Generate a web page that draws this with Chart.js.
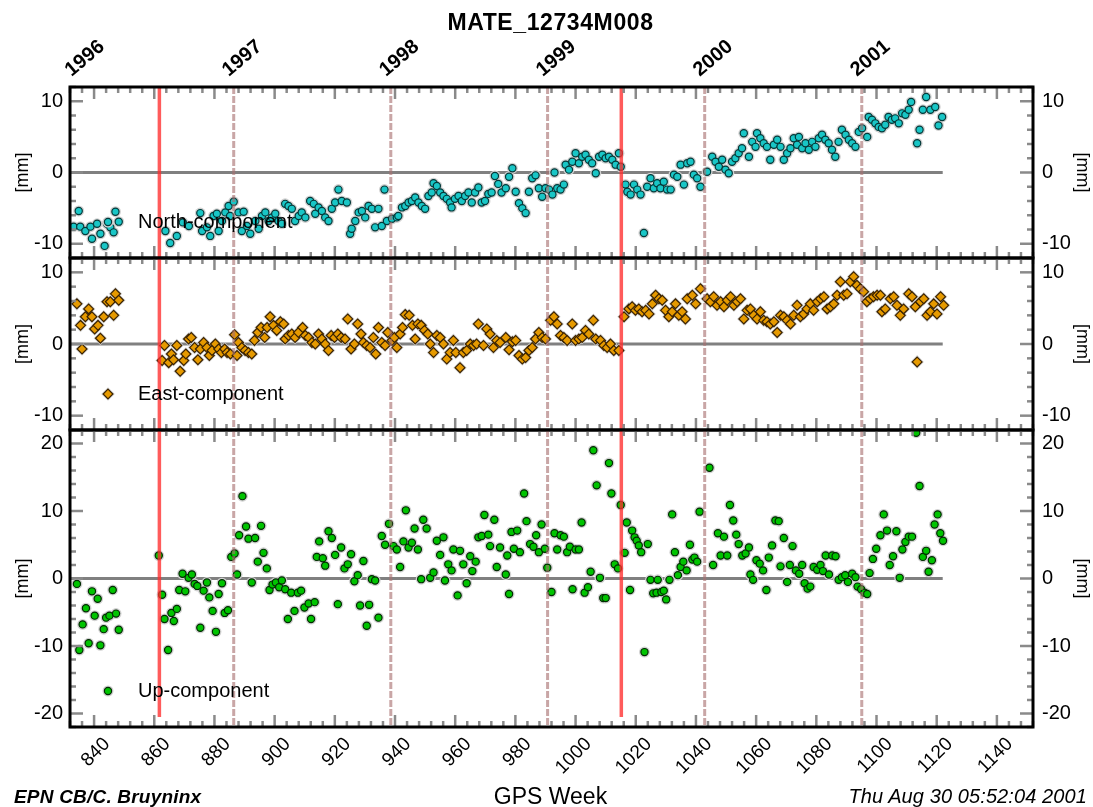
<!DOCTYPE html>
<html lang="en">
<head>
    <meta charset="UTF-8">
    <title>MATE_12734M008</title>
    <script src="https://cdn.jsdelivr.net/npm/chart.js"></script>
    <style>
        body { margin: 0; background: #fff; }
        #wrap { position: relative; width: 1093px; height: 807px; overflow: hidden; font-family: "Liberation Sans", Arial, sans-serif; }
        #wrap canvas { position: absolute; left: 0; top: 0; }
        .txt { position: absolute; white-space: nowrap; color: #000; }
        #title { left: 0; width: 1093px; top: 9px; text-align: center; font-weight: bold; font-size: 23px; letter-spacing: 0.6px; padding-left: 4px; }
        #credit { left: 14px; top: 786px; font-weight: bold; font-style: italic; font-size: 19px; letter-spacing: 0.2px; }
        #xlabel { left: 0; width: 1093px; top: 783px; text-align: center; font-size: 23px; padding-left: 4px; }
        #stamp { right: 6px; top: 785px; font-style: italic; font-size: 20px; letter-spacing: 0.1px; }
    </style>
</head>
<body>
<div id="wrap">
    <canvas id="north" width="1093" height="807"></canvas>
    <canvas id="east" width="1093" height="807"></canvas>
    <canvas id="up" width="1093" height="807"></canvas>
    <div class="txt" id="title">MATE_12734M008</div>
    <div class="txt" id="credit">EPN CB/C. Bruyninx</div>
    <div class="txt" id="xlabel">GPS Week</div>
    <div class="txt" id="stamp">Thu Aug 30 05:52:04 2001</div>
</div>

<script>
// GPS week axis
const weekMin = 832;
const weekMax = 1152;
const weekTicks = [840, 860, 880, 900, 920, 940, 960, 980, 1000, 1020, 1040, 1060, 1080, 1100, 1120, 1140];
const yearWeeks = [834.1, 886.4, 938.6, 990.7, 1042.9, 1095.1];
const yearLabels = ['1996', '1997', '1998', '1999', '2000', '2001'];
const yearLines = [886.4, 938.6, 990.7, 1042.9, 1095.1];
const breakWeeks = [861.7, 1015.2];   // red lines (equipment changes)
const zeroLineEnd = 1122;

// [GPS week, mm]
const northPoints = [
    [833.2,-7.6],[834.9,-5.4],[835.4,-7.6],[837.1,-8.2],[838.8,-7.6],[839.3,-9.3],[841.0,-7.2],[842.1,-8.6],
    [843.5,-10.3],[844.3,-7.2],[845.4,-7.7],[846.5,-8.4],[847.1,-5.5],[848.2,-6.9],
    [863.7,-8.2],[865.3,-9.9],[867.5,-8.9],[869.5,-7.0],[871.5,-7.5],[875.3,-5.7],[875.9,-8.2],[877.5,-7.7],
    [878.6,-8.9],[879.7,-6.1],[880.8,-5.8],[881.4,-8.2],[882.5,-6.8],[883.6,-5.6],[884.7,-4.7],[885.2,-6.1],
    [886.4,-4.1],[888.0,-5.6],[889.1,-8.2],[889.7,-5.5],[890.8,-7.5],[891.9,-8.6],[893.6,-6.8],[894.7,-7.9],
    [895.8,-6.1],[896.9,-5.6],[898.0,-6.8],[899.1,-6.3],[900.2,-5.8],[901.3,-6.8],[902.4,-7.2],[903.5,-4.4],
    [904.6,-4.7],[905.7,-5.1],[906.8,-6.8],[908.0,-6.1],[909.0,-5.6],[910.2,-6.3],[911.8,-4.0],[913.0,-4.4],
    [913.5,-5.8],[914.6,-4.9],[915.7,-5.4],[916.8,-6.3],[917.9,-6.8],[919.0,-5.1],[920.1,-4.2],[921.2,-2.4],
    [922.3,-4.0],[924.0,-4.2],[925.1,-8.6],[925.6,-7.9],[926.8,-6.8],[927.9,-5.6],[929.0,-5.4],[930.1,-6.3],
    [931.2,-4.7],[932.3,-5.1],[933.4,-7.7],[934.5,-5.1],[935.6,-7.5],[936.5,-2.4],[937.3,-6.8],[939.0,-6.5],
    [940.6,-6.3],[941.1,-6.1],[942.3,-4.9],[943.4,-4.7],[944.5,-4.2],[945.6,-4.0],[946.7,-3.5],[947.8,-4.2],
    [948.9,-4.7],[950.0,-5.1],[951.1,-3.3],[952.2,-2.8],[952.8,-1.5],[953.9,-1.9],[955.0,-2.8],[956.1,-3.3],
    [957.2,-3.7],[958.3,-4.2],[958.8,-4.9],[959.9,-3.7],[961.1,-3.3],[962.2,-4.0],[963.3,-3.3],[964.4,-2.8],
    [965.5,-4.2],[966.6,-2.8],[967.7,-2.1],[968.8,-4.2],[969.9,-4.0],[971.0,-3.0],[972.1,-2.8],[973.2,-0.5],
    [974.3,-1.6],[975.4,-2.8],
    [976.8,-2.2],[977.9,-0.6],[979.0,0.6],[980.1,-2.7],[981.2,-4.3],[982.3,-5.0],[983.4,-5.7],[984.5,-2.7],
    [985.6,-0.8],[986.7,-0.4],[987.8,-2.2],[988.9,-3.4],[990.0,-2.2],[991.2,-2.4],[992.3,-3.1],[993.0,0.0],
    [993.9,-2.2],[995.0,-2.4],[996.1,-1.7],[996.7,1.1],[997.8,0.4],[998.9,1.5],[1000.0,2.7],[1001.1,1.3],
    [1002.2,2.2],[1003.3,2.5],[1004.4,1.8],[1005.5,1.3],[1006.7,-0.1],[1007.8,2.2],[1008.9,2.5],[1010.0,2.0],
    [1011.1,2.2],[1012.2,1.8],[1013.3,1.1],[1014.4,2.7],[1015.0,0.8],
    [1016.6,-1.7],[1017.2,-2.7],[1018.3,-3.1],[1019.4,-1.7],[1020.5,-2.4],[1021.6,-3.1],[1022.7,-8.5],[1023.8,-2.0],
    [1024.9,-0.8],[1026.0,-2.2],[1027.1,-1.5],[1028.2,-2.2],[1029.3,-1.3],[1030.4,-2.4],[1031.6,-2.4],[1032.7,-0.3],
    [1033.8,-0.6],[1034.9,1.1],[1036.0,-1.7],[1037.1,1.3],[1038.2,1.5],[1039.3,-0.3],[1040.4,-0.8],[1041.5,-2.0],
    [1043.7,0.1],[1045.4,2.2],[1046.5,1.5],[1047.6,0.8],[1048.7,1.8],[1049.8,0.4],[1050.9,-0.1],[1052.0,1.5],
    [1053.1,2.0],[1054.2,2.7],[1055.3,3.4],[1055.9,5.5],[1057.6,2.2],[1058.7,4.3],[1059.8,3.6],[1060.3,5.5],
    [1061.4,4.8],[1062.5,4.1],[1063.6,3.6],[1064.7,1.8],[1065.9,3.9],[1067.0,4.6],[1068.1,3.6],[1069.2,1.8],
    [1070.3,2.7],[1071.4,3.4],[1072.5,4.8],[1073.6,3.9],[1074.2,5.0],[1075.3,3.4],[1076.4,4.1],[1077.5,3.2],
    [1078.6,4.3],[1079.7,3.6],[1080.8,4.8],[1081.9,5.3],[1083.0,4.6],[1084.1,4.1],[1085.2,3.2],[1086.3,2.2],
    [1087.4,4.3],[1088.5,6.0],[1089.7,5.3],[1090.8,4.6],[1091.9,4.1],[1093.0,3.6],[1094.1,5.7],[1095.2,6.2],
    [1096.9,5.0],[1097.4,7.8],[1098.5,7.4],[1099.6,6.9],[1100.7,6.4],[1101.8,6.2],[1102.9,6.7],[1104.0,7.8],
    [1105.1,7.4],[1106.2,7.6],[1107.4,6.9],[1108.5,8.3],[1109.6,8.1],[1110.7,8.8],[1111.5,9.9],[1113.5,4.1],
    [1114.3,6.0],[1115.4,8.8],[1116.5,10.6],[1117.9,8.8],[1119.5,9.2],[1120.6,6.6],[1121.8,7.8]
];

const eastPoints = [
    [834.3,5.6],[835.5,2.6],[836.0,-0.7],[837.1,3.8],[838.2,4.9],[839.3,3.8],[840.2,2.1],[841.3,2.6],
    [842.1,0.8],[843.2,3.8],[844.3,5.9],[845.4,5.9],[846.5,4.0],[847.1,7.0],[848.2,6.1],
    [862.6,-2.3],[863.4,-0.2],[864.8,-2.6],[865.7,-1.4],[866.4,-2.2],[867.5,-0.2],[868.6,-3.8],[869.8,-2.3],
    [870.5,-1.4],[871.4,0.7],[872.3,0.9],[873.4,-0.5],[874.5,-2.2],[875.3,-0.7],[876.4,0.2],[877.5,-0.5],
    [878.3,-1.6],[879.2,-0.9],[880.3,0.0],[881.4,-0.7],[882.3,-1.2],[883.4,-0.7],[884.2,-1.2],[885.3,-1.4],
    [886.7,1.3],[887.5,-1.6],[888.0,0.2],[889.1,-0.5],[890.2,-0.9],[891.3,-1.2],[892.4,-1.4],[893.3,0.5],
    [894.4,1.6],[895.5,2.3],[896.7,0.9],[897.5,2.3],[898.5,3.8],[899.6,2.6],[900.7,1.9],[901.9,3.1],
    [903.0,2.8],[903.5,0.7],[904.6,1.2],[905.7,1.4],[906.8,0.9],[907.9,1.6],[909.3,2.3],[910.2,1.2],
    [911.3,0.9],[912.4,0.2],[913.5,0.0],[914.6,1.4],[915.7,0.7],[916.8,0.0],[917.9,-0.9],[918.8,1.2],
    [919.9,0.9],[921.0,1.4],[922.1,0.9],[923.4,0.7],[924.3,3.5],[925.4,-0.7],[926.5,0.0],[927.6,2.8],
    [928.7,1.4],[929.5,0.2],[930.6,-0.2],[931.7,-0.5],[932.8,0.9],[933.6,-1.4],[934.5,2.3],[935.6,0.2],
    [936.7,-0.2],[937.6,1.6],[939.0,0.5],[939.8,0.9],[940.6,-0.5],[941.7,1.4],[942.5,2.3],[943.4,4.1],
    [944.7,4.0],[945.8,2.6],[946.7,0.7],[947.6,2.8],[948.7,2.6],[949.8,1.9],[950.9,1.4],[951.7,0.0],
    [952.8,-1.2],[953.9,1.2],[955.0,0.9],[956.1,0.0],[957.2,-2.1],[958.3,-1.2],[959.4,0.5],[960.2,-1.2],
    [961.6,-3.3],[962.7,-1.2],[963.8,-0.9],[965.0,0.0],[966.1,-0.2],[967.1,0.0],[967.7,2.8],[969.4,-0.2],
    [970.5,2.1],[971.6,1.4],[972.7,-0.5],[973.8,0.5],[974.9,0.2],
    [976.8,0.9],[977.9,-0.8],[979.0,0.3],[980.1,0.5],[981.2,-1.6],[982.3,-2.1],[983.4,-1.9],[984.5,-0.9],
    [985.6,-0.5],[986.7,0.7],[987.8,1.6],[988.9,0.9],[990.0,0.7],[991.7,3.3],[992.8,3.8],[993.9,2.8],
    [995.0,1.2],[996.1,0.9],[997.2,0.5],[998.9,2.8],[1000.0,0.5],[1001.1,0.7],[1002.2,0.9],[1003.3,1.9],
    [1004.4,1.4],[1005.9,3.3],[1006.7,0.7],[1008.3,0.5],[1009.4,-0.2],[1010.5,-0.5],[1011.6,0.0],[1012.7,-0.9],
    [1014.4,-0.9],
    [1016.1,3.8],[1017.7,4.9],[1018.8,5.2],[1019.9,4.7],[1021.0,4.9],[1022.1,4.5],[1023.3,4.7],[1024.4,4.2],
    [1025.5,5.6],[1026.6,6.8],[1027.7,6.3],[1028.8,6.1],[1029.9,4.7],[1031.0,3.8],[1032.1,4.5],[1033.2,5.6],
    [1034.3,4.0],[1035.4,4.5],[1036.5,3.5],[1037.1,6.3],[1038.8,6.8],[1039.9,5.6],[1041.5,7.7],[1043.7,6.3],
    [1044.8,5.9],[1045.9,6.6],[1047.0,5.4],[1048.2,5.9],[1049.3,5.2],[1050.4,6.1],[1051.5,6.6],[1052.6,5.4],
    [1053.7,5.9],[1054.8,6.3],[1055.9,3.5],[1057.0,4.7],[1058.1,4.9],[1059.2,4.0],[1060.3,3.5],[1061.4,4.5],
    [1062.5,3.3],[1063.6,3.1],[1064.7,2.8],[1065.9,3.1],[1067.0,1.6],[1068.1,4.0],[1069.2,3.8],[1070.3,3.3],
    [1071.4,2.8],[1072.5,4.0],[1073.6,5.4],[1074.7,3.8],[1075.8,4.2],[1076.9,4.9],[1078.0,5.6],[1079.1,4.7],
    [1080.3,5.9],[1081.4,6.3],[1082.5,6.6],[1083.6,4.9],[1084.7,5.2],[1085.8,5.6],[1086.9,6.8],[1088.0,8.7],
    [1089.1,6.8],[1090.2,7.0],[1091.3,8.7],[1092.4,9.4],[1093.5,8.2],[1094.6,7.7],[1095.7,7.3],[1096.8,5.9],
    [1097.9,6.3],[1099.0,6.6],[1100.2,6.8],[1101.3,6.8],[1101.8,4.5],[1102.9,4.9],[1104.6,6.3],[1105.7,6.6],
    [1106.8,5.4],[1107.9,4.0],[1109.0,4.9],[1110.7,7.0],[1111.8,6.6],[1112.9,5.2],[1113.5,-2.5],[1114.6,5.9],
    [1115.7,6.3],[1116.8,4.0],[1117.9,4.5],[1119.0,5.6],[1120.1,4.2],[1121.3,6.6],[1122.3,5.4]
];

const upPoints = [
    [834.3,-0.8],[835.1,-10.6],[836.2,-6.8],[837.3,-4.4],[838.2,-9.6],[839.3,-1.9],[840.2,-5.5],[841.2,-3.0],
    [842.1,-9.9],[843.2,-7.5],[844.0,-5.8],[845.1,-5.5],[846.2,-1.7],[847.3,-5.2],[848.2,-7.6],
    [861.5,3.4],[862.6,-2.4],[863.4,-6.0],[864.6,-10.6],[865.7,-5.1],[866.5,-6.3],[867.5,-4.5],[868.3,-1.7],
    [869.4,0.7],[870.3,-1.9],[871.4,0.1],[872.5,0.6],[873.4,-0.8],[874.3,-1.1],[875.3,-7.3],[876.4,-1.8],
    [877.5,-0.6],[878.3,-2.8],[879.4,-4.8],[880.5,-7.9],[881.4,-2.3],[882.5,-0.7],[883.4,-5.1],[884.5,-4.7],
    [885.6,3.2],[886.7,3.7],[887.5,0.6],[888.2,6.4],[889.3,12.2],[890.5,7.7],[891.3,5.9],[892.4,-0.6],
    [893.5,6.0],[894.4,2.5],[895.5,7.8],[896.3,3.8],[897.4,1.5],[898.3,-1.7],[899.3,-0.9],[900.4,-0.6],
    [901.5,-1.3],[902.4,-0.3],[903.5,-1.6],[904.4,-6.0],[905.5,-2.1],[906.6,-4.8],[907.7,-2.1],[908.8,-1.8],
    [909.9,-4.3],[911.3,-3.7],[912.1,-6.0],[913.3,-3.5],[914.0,3.2],[914.8,5.5],[916.0,3.0],[916.8,1.9],
    [917.9,7.0],[919.0,6.0],[920.1,3.5],[921.0,-3.8],[922.1,4.6],[923.2,1.5],[924.3,2.1],[925.4,3.6],
    [926.5,-0.4],[927.6,0.5],[928.4,-4.0],[929.5,2.6],[930.6,-7.0],[931.4,-3.9],[932.3,-0.1],[933.4,-0.3],
    [934.5,-5.8],[935.6,6.3],[936.7,5.0],[938.0,8.1],[939.5,4.8],[940.6,4.3],[941.7,1.7],[942.8,5.5],
    [943.6,10.1],[944.5,4.6],[945.6,5.3],[946.5,7.4],[947.6,4.3],[948.7,-0.1],[949.4,8.7],[950.5,7.4],
    [951.7,0.1],[952.8,0.9],[953.9,5.6],[955.0,3.5],[956.1,6.1],[956.6,-0.3],[957.7,2.1],[958.8,1.2],
    [959.4,4.3],[960.8,-2.5],[961.6,4.1],[962.7,2.1],[963.8,-0.7],[965.0,3.3],[965.7,1.1],[966.8,2.5],
    [967.7,6.1],[968.8,6.3],[969.7,9.4],[971.0,6.5],[971.6,4.8],[973.0,8.7],[973.8,1.7],[974.9,4.6],
    [976.8,0.6],[977.3,3.4],[977.9,-2.3],[978.7,6.9],[979.5,4.4],[980.6,7.1],[981.5,3.9],[982.9,12.6],
    [983.7,8.5],[984.9,5.1],[986.0,4.7],[986.9,6.4],[987.8,3.9],[988.7,8.0],[989.8,4.4],[990.6,1.6],
    [992.0,-2.0],[993.0,6.7],[993.9,4.3],[995.0,6.4],[996.1,6.2],[997.2,3.9],[998.1,4.7],[999.0,-1.6],
    [1000.0,4.3],[1001.1,4.3],[1002.0,8.3],[1003.0,-2.1],[1004.1,-1.3],[1005.0,1.0],[1005.9,19.0],[1007.0,13.8],
    [1008.1,0.1],[1009.2,-2.9],[1010.0,-2.9],[1011.1,17.1],[1011.9,12.6],[1013.0,2.1],[1014.1,1.5],[1015.0,10.9],
    [1016.3,3.8],[1017.0,8.3],[1018.1,-1.7],[1018.8,7.1],[1019.6,6.1],[1020.3,5.6],[1021.0,4.9],[1021.8,3.9],
    [1022.9,-10.9],[1024.0,5.1],[1024.9,-0.2],[1025.8,-2.2],[1026.9,-2.1],[1027.3,-0.2],[1028.5,-2.0],[1029.3,-1.8],
    [1030.1,-3.1],[1031.2,-0.2],[1032.1,9.5],[1033.0,3.9],[1034.0,0.5],[1034.9,1.7],[1035.8,2.5],[1036.9,1.2],
    [1038.0,5.0],[1038.8,2.8],[1039.5,3.1],[1040.4,2.5],[1041.2,9.9],[1044.5,16.4],[1045.7,2.0],[1047.3,6.7],
    [1048.2,3.4],[1049.3,6.2],[1050.4,3.4],[1051.3,10.9],[1052.4,8.6],[1053.4,6.5],[1054.2,5.1],[1055.4,3.4],
    [1056.5,3.7],[1057.6,4.6],[1058.1,0.6],[1059.0,-0.2],[1060.1,2.7],[1061.2,2.2],[1062.3,1.2],[1063.4,-1.7],
    [1064.2,3.1],[1065.3,4.9],[1066.4,8.6],[1067.5,8.5],[1068.1,1.8],[1069.2,6.0],[1070.3,-0.5],[1071.2,2.0],
    [1072.1,4.8],[1073.2,1.2],[1074.3,0.7],[1075.3,2.0],[1076.1,-0.7],[1077.1,-1.5],[1078.0,-1.2],[1079.1,1.7],
    [1080.3,1.3],[1081.4,2.0],[1082.2,1.1],[1083.1,3.4],[1084.2,0.6],[1085.3,3.4],[1086.4,3.3],[1087.4,-0.2],
    [1088.5,0.2],[1089.6,0.5],[1090.5,-0.5],[1091.9,0.7],[1093.0,0.2],[1093.7,-1.2],[1094.9,-1.6],[1096.0,-2.1],
    [1096.9,-2.3],[1097.7,0.8],[1098.8,2.9],[1099.9,4.4],[1101.3,6.4],[1102.4,9.5],[1103.5,7.1],[1104.4,2.0],
    [1105.5,3.3],[1106.6,7.0],[1107.7,0.1],[1108.6,4.3],[1109.6,5.4],[1110.7,6.2],[1111.8,6.2],[1113.2,21.6],
    [1114.3,13.7],[1115.4,3.2],[1116.5,4.1],[1117.3,1.0],[1118.4,2.7],[1119.3,8.0],[1120.3,9.5],[1121.2,6.7],
    [1122.1,5.6]
];

const smallTicks = [-10, 0, 10];
const bigTicks = [-20, -10, 0, 10, 20];

const FONT = '"Liberation Sans", Arial, sans-serif';

function strokeLine(ctx, x1, y1, x2, y2) {
    ctx.beginPath();
    ctx.moveTo(x1, y1);
    ctx.lineTo(x2, y2);
    ctx.stroke();
}

function drawMarker(ctx, shape, x, y, r) {
    ctx.beginPath();
    if (shape === 'rectRot') {
        ctx.moveTo(x, y - r); ctx.lineTo(x + r, y); ctx.lineTo(x, y + r); ctx.lineTo(x - r, y); ctx.closePath();
    } else {
        ctx.arc(x, y, r, 0, Math.PI * 2);
    }
}

// reference lines, inward ticks, frame and in-panel legend
const panelDecor = {
    id: 'panelDecor',
    beforeDatasetsDraw(chart) {
        const {ctx, chartArea: a} = chart;
        const x = chart.scales.x, y = chart.scales.y;
        const y0 = y.getPixelForValue(0);
        ctx.save();
        ctx.strokeStyle = '#808080';
        ctx.lineWidth = 3;
        strokeLine(ctx, a.left, y0, x.getPixelForValue(zeroLineEnd), y0);
        ctx.restore();
    },
    afterDatasetsDraw(chart, args, o) {
        const {ctx, chartArea: a} = chart;
        const x = chart.scales.x, y = chart.scales.y;
        ctx.save();

        ctx.strokeStyle = 'rgba(168,112,112,0.62)';
        ctx.lineWidth = 3;
        ctx.setLineDash([7, 2]);
        yearLines.forEach(w => {
            const px = x.getPixelForValue(w);
            strokeLine(ctx, px, a.top, px, a.bottom);
        });
        ctx.setLineDash([]);

        ctx.strokeStyle = 'rgba(255,45,45,0.78)';
        ctx.lineWidth = 3.5;
        breakWeeks.forEach(w => {
            const px = x.getPixelForValue(w);
            strokeLine(ctx, px, a.top, px, a.bottom - o.redInset);
        });

        ctx.strokeStyle = '#8a8a8a';
        ctx.lineWidth = 2.5;
        for (let w = weekMin; w <= weekMax; w += 4) {
            const px = x.getPixelForValue(w);
            const len = w % 20 === 0 ? 12 : 6;
            strokeLine(ctx, px, a.top, px, a.top + len);
            strokeLine(ctx, px, a.bottom, px, a.bottom - len);
        }
        for (let v = y.min; v <= y.max; v += 2) {
            const py = y.getPixelForValue(v);
            const len = v % 10 === 0 ? 13 : 6;
            strokeLine(ctx, a.left, py, a.left + len, py);
            strokeLine(ctx, a.right, py, a.right - len, py);
        }

        ctx.strokeStyle = '#000';
        ctx.lineWidth = 3;
        ctx.strokeRect(a.left, a.top, a.right - a.left, a.bottom - a.top);

        const ly = a.bottom - 36;
        ctx.fillStyle = '#cfcfcf';
        drawMarker(ctx, o.shape, a.left + 38, ly, o.shape === 'rectRot' ? 6.8 : 5.5);
        ctx.fill();
        ctx.fillStyle = o.fill;
        ctx.strokeStyle = o.edge;
        ctx.lineWidth = 1.2;
        drawMarker(ctx, o.shape, a.left + 38, ly, o.shape === 'rectRot' ? 4.9 : 3.6);
        ctx.fill();
        ctx.stroke();
        ctx.fillStyle = '#000';
        ctx.font = '20px ' + FONT;
        ctx.textBaseline = 'middle';
        ctx.fillText(o.label, a.left + 68, ly);
        ctx.restore();
    }
};

function yScale(pos, cfg) {
    return {
        type: 'linear',
        position: pos,
        min: cfg.yMin,
        max: cfg.yMax,
        afterBuildTicks: s => { s.ticks = cfg.yTicks.map(v => ({value: v})); },
        afterFit: s => { s.width = pos === 'left' ? 70 : 60; },
        grid: {display: false, drawTicks: false},
        border: {display: false},
        ticks: {
            color: '#000',
            font: {family: FONT, size: 20},
            padding: pos === 'left' ? 7 : 9,
            callback: v => String(v)
        },
        title: {
            display: true,
            text: '[mm]',
            color: '#000',
            font: {family: FONT, size: 18},
            padding: {top: pos === 'left' ? 12 : 0, bottom: 0}
        }
    };
}

function makePanel(id, points, cfg) {
    const pts = points.map(p => ({x: p[0], y: p[1]}));
    const scales = {
        x: {
            type: 'linear',
            position: 'bottom',
            min: weekMin,
            max: weekMax,
            display: cfg.showWeeks,
            afterBuildTicks: s => { s.ticks = weekTicks.map(v => ({value: v})); },
            grid: {display: false, drawTicks: false},
            border: {display: false},
            ticks: {
                autoSkip: false,
                minRotation: 45,
                maxRotation: 45,
                padding: 6,
                labelOffset: 13,
                color: '#000',
                font: {family: FONT, size: 19},
                callback: v => String(v)
            }
        },
        y: yScale('left', cfg),
        y2: yScale('right', cfg)
    };
    if (cfg.showWeeks) {
        scales.x.afterFit = s => { s.height = 80; };
    }
    if (cfg.showYears) {
        scales.xTop = {
            type: 'linear',
            position: 'top',
            min: weekMin,
            max: weekMax,
            afterBuildTicks: s => { s.ticks = yearWeeks.map(v => ({value: v})); },
            afterFit: s => { s.height = 87; },
            grid: {display: false, drawTicks: false},
            border: {display: false},
            ticks: {
                autoSkip: false,
                minRotation: 40,
                maxRotation: 40,
                padding: 5,
                labelOffset: 7,
                color: '#000',
                font: {family: FONT, size: 20, weight: 'bold'},
                callback: (v, i) => yearLabels[i]
            }
        };
    }
    return new Chart(document.getElementById(id), {
        type: 'scatter',
        data: {
            datasets: [
                {
                    data: pts,
                    pointStyle: cfg.shape,
                    pointRadius: cfg.shape === 'rectRot' ? 4.9 : 3.6,
                    backgroundColor: cfg.fill,
                    borderColor: cfg.edge,
                    borderWidth: 1.2,
                    order: 1
                },
                {
                    data: pts,
                    pointStyle: cfg.shape,
                    pointRadius: cfg.shape === 'rectRot' ? 6.8 : 5.5,
                    backgroundColor: '#d2d2d2',
                    borderWidth: 0,
                    order: 2
                }
            ]
        },
        options: {
            responsive: false,
            animation: false,
            events: [],
            layout: {
                autoPadding: false,
                padding: {top: cfg.padTop, bottom: cfg.padBottom, left: 0, right: 0}
            },
            plugins: {
                legend: {display: false},
                tooltip: {enabled: false},
                panelDecor: {label: cfg.label, shape: cfg.shape, fill: cfg.fill, edge: cfg.edge, redInset: cfg.redInset}
            },
            scales: scales
        },
        plugins: [panelDecor]
    });
}

makePanel('north', northPoints, {
    label: 'North-component', shape: 'circle', fill: '#19c6c6', edge: '#053838',
    yMin: -12, yMax: 12, yTicks: smallTicks,
    padTop: 0, padBottom: 807 - 258, showYears: true, showWeeks: false, redInset: 0
});
makePanel('east', eastPoints, {
    label: 'East-component', shape: 'rectRot', fill: '#e69a00', edge: '#3a2200',
    yMin: -12, yMax: 12, yTicks: smallTicks,
    padTop: 258, padBottom: 807 - 430, showYears: false, showWeeks: false, redInset: 0
});
makePanel('up', upPoints, {
    label: 'Up-component', shape: 'circle', fill: '#00c400', edge: '#022a02',
    yMin: -22, yMax: 22, yTicks: bigTicks,
    padTop: 430, padBottom: 0, showYears: false, showWeeks: true, redInset: 10
});
</script>
</body>
</html>
